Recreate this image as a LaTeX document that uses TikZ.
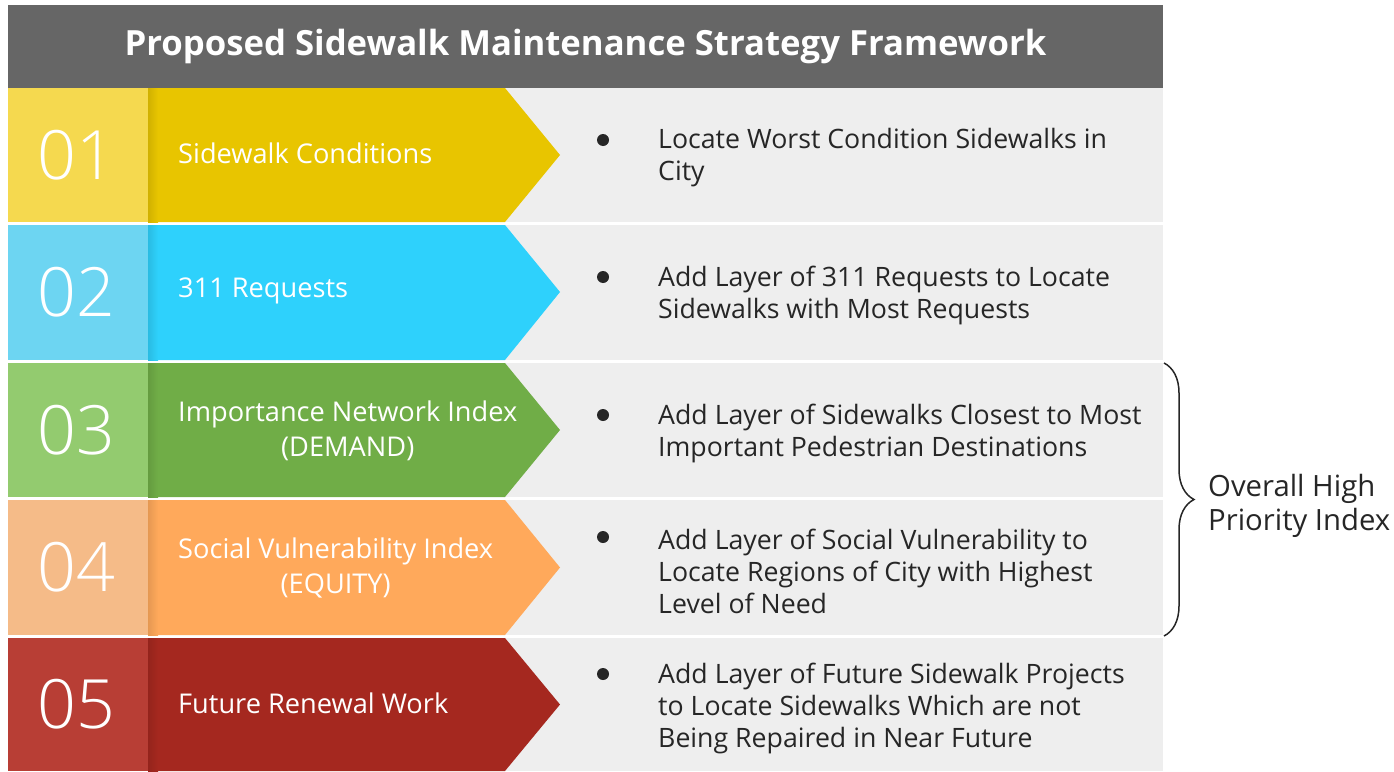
\documentclass[tikz,border=0pt]{standalone}
\usepackage{fontspec}
\setmainfont{Open Sans}
\newfontfamily\numfont{Open Sans Light}
\usetikzlibrary{decorations.pathreplacing}

\definecolor{titlegray}{HTML}{666666}
\definecolor{rowgray}{HTML}{EEEEEE}
\definecolor{textgray}{HTML}{262626}
\definecolor{numone}{HTML}{F5D94F}
\definecolor{arrone}{HTML}{E8C500}
\definecolor{numtwo}{HTML}{6DD5F2}
\definecolor{arrtwo}{HTML}{2ED1FC}
\definecolor{numthree}{HTML}{93CB6F}
\definecolor{arrthree}{HTML}{70AD47}
\definecolor{numfour}{HTML}{F5BB88}
\definecolor{arrfour}{HTML}{FFA95B}
\definecolor{numfive}{HTML}{B83E35}
\definecolor{arrfive}{HTML}{A5281F}

\begin{document}
\begin{tikzpicture}[x=1pt,y=-1pt,
        every node/.style={inner sep=0pt},
        num/.style={font=\numfont\fontsize{68}{68}\selectfont, text=white},
        lbl/.style={font=\fontsize{27.2}{35}\selectfont, text=white, anchor=west, align=center},
        item/.style={font=\fontsize{26.7}{32}\selectfont, text=textgray, anchor=west, align=left},
        dot/.style={circle, fill=textgray, minimum size=12pt}]
        \useasboundingbox (0,0) rectangle (1394,771);
        % title bar
        \fill [titlegray] (8,5) rectangle (1163,88);
        \node [font=\bfseries\fontsize{34.7}{35}\selectfont, text=white] (title) at (585.5,46) {Proposed Sidewalk Maintenance Strategy Framework};
        % row 01
        \fill [rowgray] (505,88) rectangle (1163,222);
        \fill [numone] (8,88) rectangle (148,222);
        \fill [arrone] (148,88) -- (505,88) -- (560,155) -- (505,222) -- (148,222) -- cycle;
        \shade [left color=arrone!90!black, right color=arrone] (148,88) rectangle (158,222);
        \node [num] (n1) at (76,155) {01};
        \node [lbl] (l1) at (178,153) {Sidewalk Conditions};
        \node [dot] (b1) at (603,140) {};
        \node [item] (t1) at (658,158) {Locate Worst Condition Sidewalks in\\City};
        % row 02
        \fill [rowgray] (505,225) rectangle (1163,360);
        \fill [numtwo] (8,225) rectangle (148,360);
        \fill [arrtwo] (148,225) -- (505,225) -- (560,292) -- (505,360) -- (148,360) -- cycle;
        \shade [left color=arrtwo!90!black, right color=arrtwo] (148,225) rectangle (158,360);
        \node [num] (n2) at (76,292) {02};
        \node [lbl] (l2) at (178,291) {311 Requests};
        \node [dot] (b2) at (603,277) {};
        \node [item] (t2) at (658,295) {Add Layer of 311 Requests to Locate\\Sidewalks with Most Requests};
        % row 03
        \fill [rowgray] (505,363) rectangle (1163,497);
        \fill [numthree] (8,363) rectangle (148,497);
        \fill [arrthree] (148,363) -- (505,363) -- (560,430) -- (505,497) -- (148,497) -- cycle;
        \shade [left color=arrthree!90!black, right color=arrthree] (148,363) rectangle (158,497);
        \node [num] (n3) at (76,430) {03};
        \node [lbl] (l3) at (178,431) {Importance Network Index\\(DEMAND)};
        \node [dot] (b3) at (603,415) {};
        \node [item] (t3) at (658,433) {Add Layer of Sidewalks Closest to Most\\Important Pedestrian Destinations};
        % row 04
        \fill [rowgray] (505,500) rectangle (1163,635);
        \fill [numfour] (8,500) rectangle (148,635);
        \fill [arrfour] (148,500) -- (505,500) -- (560,567.5) -- (505,635) -- (148,635) -- cycle;
        \shade [left color=arrfour!90!black, right color=arrfour] (148,500) rectangle (158,635);
        \node [num] (n4) at (76,567.5) {04};
        \node [lbl] (l4) at (178,568) {Social Vulnerability Index\\(EQUITY)};
        \node [dot] (b4) at (603,537) {};
        \node [item] (t4) at (658,571) {Add Layer of Social Vulnerability to\\Locate Regions of City with Highest\\Level of Need};
        % row 05
        \fill [rowgray] (505,638) rectangle (1163,771);
        \fill [numfive] (8,638) rectangle (148,771);
        \fill [arrfive] (148,638) -- (505,638) -- (560,704.5) -- (505,771) -- (148,771) -- cycle;
        \shade [left color=arrfive!90!black, right color=arrfive] (148,638) rectangle (158,771);
        \node [num] (n5) at (76,704.5) {05};
        \node [lbl] (l5) at (178,703) {Future Renewal Work};
        \node [dot] (b5) at (603,674) {};
        \node [item] (t5) at (658,708) {Add Layer of Future Sidewalk Projects\\to Locate Sidewalks Which are not\\Being Repaired in Near Future};
        % brace
        \coordinate (bracetop) at (1164,363);
        \coordinate (bracebot) at (1164,636);
        \draw [textgray, line width=1.5pt, decorate, decoration={brace, amplitude=30pt}] (bracetop) -- (bracebot);
        \node [font=\fontsize{29.3}{34}\selectfont, text=textgray, anchor=west, align=left] (overall) at (1208,506) {Overall High\\Priority Index};
\end{tikzpicture}
\end{document}
